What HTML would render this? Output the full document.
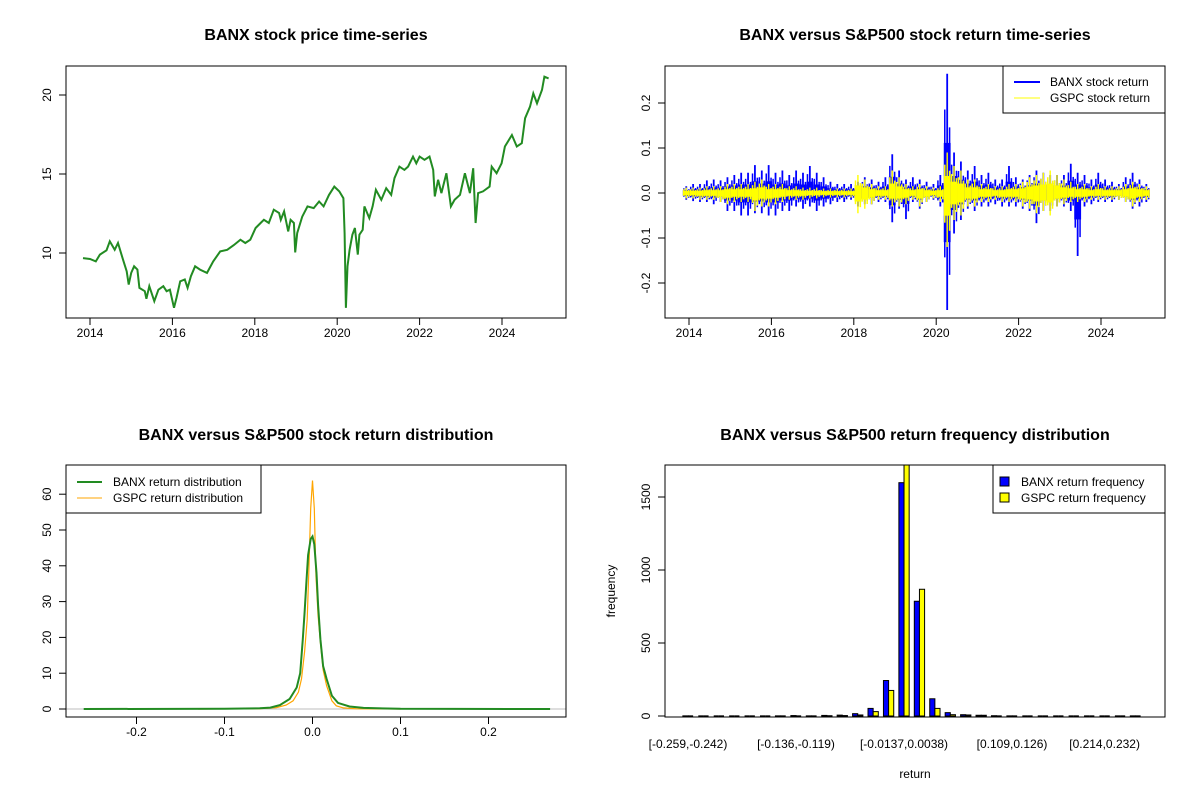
<!DOCTYPE html>
<html><head><meta charset="utf-8"><title>BANX vs S&amp;P500</title>
<style>
html,body{margin:0;padding:0;background:#fff;}
svg{display:block;font-family:"Liberation Sans",Arial,sans-serif;}
.t{font-weight:bold;font-size:16px;text-anchor:middle;}
</style></head>
<body>
<svg id="chart" width="1200" height="800" viewBox="0 0 1200 800" xmlns="http://www.w3.org/2000/svg">
<rect width="1200" height="800" fill="#fff"/>
<defs>
<clipPath id="c1"><rect x="66" y="66" width="500" height="252"/></clipPath>
<clipPath id="c2"><rect x="665" y="66" width="500" height="252"/></clipPath>
<clipPath id="c3"><rect x="66" y="465" width="500" height="252"/></clipPath>
<clipPath id="c4"><rect x="665" y="465" width="500" height="252"/></clipPath>
</defs>
<text class="t" x="316" y="40">BANX stock price time-series</text>
<text class="t" x="915" y="40">BANX versus S&amp;P500 stock return time-series</text>
<text class="t" x="316" y="440">BANX versus S&amp;P500 stock return distribution</text>
<text class="t" x="915" y="440">BANX versus S&amp;P500 return frequency distribution</text>
<g id="g1"></g>
<g id="g2"></g>
<g id="g3"></g>
<g id="g4"></g>
</svg>
<script>
// ---------- data: panel 1 (price) ----------
const priceYears = [2013.83,2014.0,2014.14,2014.24,2014.4,2014.48,2014.6,2014.68,2014.8,2014.89,2014.94,2015.0,2015.07,2015.15,2015.2,2015.33,2015.37,2015.44,2015.56,2015.66,2015.78,2015.86,2015.94,2016.04,2016.1,2016.19,2016.3,2016.37,2016.45,2016.55,2016.67,2016.84,2016.99,2017.16,2017.33,2017.49,2017.65,2017.77,2017.89,2018.02,2018.14,2018.22,2018.34,2018.46,2018.59,2018.63,2018.71,2018.81,2018.87,2018.95,2018.98,2019.03,2019.15,2019.28,2019.43,2019.56,2019.67,2019.8,2019.93,2020.05,2020.15,2020.18,2020.21,2020.25,2020.3,2020.37,2020.43,2020.5,2020.54,2020.62,2020.66,2020.78,2020.86,2020.94,2021.07,2021.19,2021.31,2021.39,2021.51,2021.63,2021.72,2021.84,2021.92,2022.0,2022.12,2022.24,2022.33,2022.37,2022.45,2022.53,2022.65,2022.76,2022.85,2022.98,2023.1,2023.22,2023.3,2023.36,2023.42,2023.54,2023.7,2023.75,2023.87,2023.99,2024.07,2024.24,2024.36,2024.48,2024.56,2024.68,2024.76,2024.85,2024.97,2025.03,2025.13];
const priceValues = [9.68,9.62,9.47,9.9,10.17,10.74,10.2,10.63,9.58,8.84,8.0,8.74,9.16,8.95,7.79,7.58,7.1,7.9,6.95,7.68,7.9,7.58,7.68,6.53,7.16,8.21,8.32,7.79,8.53,9.16,8.95,8.74,9.47,10.1,10.2,10.5,10.84,10.63,10.84,11.58,11.9,12.1,11.9,12.74,12.53,12.1,12.63,11.37,12.1,11.9,10.04,11.26,12.3,12.95,12.84,13.26,12.95,13.68,14.2,13.9,13.47,11.26,6.53,9.16,10.2,11.16,11.58,9.9,11.16,11.47,12.95,12.21,12.95,14.0,13.37,14.1,13.68,14.74,15.47,15.26,15.47,16.1,15.68,16.1,15.9,16.1,15.26,13.58,14.63,13.79,15.05,12.95,13.37,13.68,15.05,13.79,15.37,11.9,13.79,13.9,14.2,15.47,15.05,15.68,16.74,17.47,16.74,16.95,18.53,19.26,20.1,19.47,20.32,21.16,21.05];
const yearTicks = [2014,2016,2018,2020,2022,2024];
const priceTicks = [10,15,20];

// ---------- data: panel 2 (returns, per ~2-month period envelopes) ----------
const retStart = 2013.85;
const retStep = 1/6;
const banxHi = [.015,.02,.02,.028,.03,.028,.035,.04,.045,.045,.062,.05,.062,.045,.05,.04,.05,.045,.06,.045,.035,.025,.02,.02,.02,.025,.035,.03,.025,.035,.086,.05,.03,.035,.03,.025,.02,.04,.265,.09,.07,.05,.06,.04,.045,.03,.03,.06,.035,.03,.04,.05,.045,.04,.04,.04,.065,.045,.04,.03,.045,.03,.025,.02,.035,.045,.03,.02];
const banxLo = [-.015,-.018,-.02,-.02,-.025,-.02,-.04,-.04,-.05,-.05,-.045,-.045,-.05,-.05,-.04,-.04,-.03,-.035,-.03,-.04,-.03,-.025,-.02,-.02,-.015,-.03,-.025,-.025,-.02,-.02,-.065,-.035,-.058,-.02,-.035,-.02,-.015,-.03,-.26,-.09,-.06,-.035,-.04,-.03,-.03,-.025,-.03,-.03,-.03,-.035,-.04,-.067,-.04,-.04,-.03,-.03,-.04,-.14,-.03,-.025,-.02,-.02,-.02,-.015,-.02,-.035,-.03,-.02];
const gspcHi = [.012,.012,.012,.015,.015,.015,.02,.02,.02,.02,.025,.03,.02,.02,.02,.015,.015,.012,.012,.012,.01,.01,.01,.01,.01,.04,.03,.02,.015,.015,.05,.035,.02,.015,.02,.015,.012,.015,.09,.06,.05,.03,.03,.02,.02,.015,.015,.02,.02,.025,.035,.04,.045,.05,.04,.03,.025,.02,.02,.015,.02,.015,.015,.015,.02,.025,.02,.015];
const gspcLo = [-.012,-.012,-.015,-.015,-.015,-.02,-.025,-.02,-.02,-.02,-.04,-.03,-.03,-.025,-.02,-.015,-.015,-.015,-.012,-.012,-.01,-.01,-.01,-.01,-.01,-.045,-.035,-.025,-.015,-.015,-.03,-.03,-.025,-.015,-.03,-.02,-.012,-.02,-.12,-.06,-.05,-.03,-.03,-.02,-.02,-.015,-.02,-.02,-.02,-.03,-.035,-.045,-.04,-.05,-.03,-.025,-.02,-.02,-.02,-.015,-.015,-.015,-.015,-.015,-.02,-.03,-.02,-.015];
const returnTicks = [-0.2,-0.1,0.0,0.1,0.2];

// ---------- data: panel 3 (densities) ----------
const banxDensX = [-0.26,-0.1,-0.06,-0.048,-0.037,-0.026,-0.018,-0.014,-0.011,-0.009,-0.007,-0.005,-0.002,0.0,0.002,0.0045,0.0064,0.009,0.012,0.016,0.022,0.029,0.042,0.058,0.1,0.27];
const banxDensY = [0,0.05,0.2,0.4,1.1,2.8,6,10,19.5,27,35,43,47.5,48.2,46,38,29,19.5,12,8.4,3.7,1.7,0.7,0.3,0.05,0];
const gspcDensX = [-0.13,-0.06,-0.041,-0.03,-0.022,-0.016,-0.0125,-0.009,-0.006,-0.004,-0.002,0.0,0.002,0.004,0.0064,0.009,0.012,0.016,0.022,0.027,0.035,0.05,0.1];
const gspcDensY = [0,0.1,0.4,1.1,2.3,4.7,8.4,16,25,40,56,63.8,56,37,26,18.6,11,6.5,2.3,0.9,0.3,0.05,0];
const densXTicks = [-0.2,-0.1,0.0,0.1,0.2];
const densYTicks = [0,10,20,30,40,50,60];

// ---------- data: panel 4 (histogram) ----------
const binLabels = ["[-0.259,-0.242)","[-0.136,-0.119)","[-0.0137,0.0038)","[0.109,0.126)","[0.214,0.232)"];
const binLabelIdx = [0,7,14,21,27];
const banxFreq = [1,0,0,0,0,0,1,3,1,4,6,16,52,243,1598,786,118,23,9,5,2,1,0,0,0,0,0,0,0,1];
const gspcFreq = [0,0,0,0,0,0,0,0,0,2,3,7,30,175,1850,868,52,9,7,5,0,0,0,0,0,0,0,0,0,0];
const freqTicks = [0,500,1000,1500];

const NS = "http://www.w3.org/2000/svg";
function mk(parent, tag, attrs, name) {
  const el = document.createElementNS(NS, tag);
  for (const k in attrs) el.setAttribute(k, attrs[k]);
  
  
  parent.appendChild(el);
  return el;
}
function txt(parent, x, y, s, name, anchor, rot) {
  const el = mk(parent, 'text', {x: x, y: y, 'font-size': 12, 'text-anchor': anchor || 'middle'}, name);
  if (rot) el.setAttribute('transform', 'rotate(-90 ' + x + ' ' + y + ')');
  el.textContent = s;
  return el;
}
function box(g, x, y, w, h, name) {
  mk(g, 'rect', {x: x, y: y, width: w, height: h, fill: 'none', stroke: '#000', 'stroke-width': 1}, name);
}
function xAxis(g, ticks, sx, y0, fmt, name) {
  ticks.forEach(t => {
    const x = sx(t);
    mk(g, 'line', {x1: x, x2: x, y1: y0, y2: y0 + 7, stroke: '#000'}, name + '-tick');
    txt(g, x, y0 + 19, fmt(t), name + '-label');
  });
}
function yAxis(g, ticks, sy, x0, fmt, name) {
  ticks.forEach(t => {
    const y = sy(t);
    mk(g, 'line', {x1: x0 - 7, x2: x0, y1: y, y2: y, stroke: '#000'}, name + '-tick');
    txt(g, x0 - 15, y, fmt(t), name + '-label', 'middle', true);
  });
}

// ---------- panel 1 ----------
(function () {
  const g = document.getElementById('g1');
  const sx = v => 90 + (v - 2014) * 41.2;
  const sy = v => 253 - (v - 10) * 15.8;
  let d = '';
  priceYears.forEach((yr, i) => { d += (i ? 'L' : 'M') + sx(yr).toFixed(1) + ' ' + sy(priceValues[i]).toFixed(1); });
  mk(g, 'path', {d: d, fill: 'none', stroke: '#228B22', 'stroke-width': 2, 'clip-path': 'url(#c1)'}, 'price-line');
  box(g, 66, 66, 500, 252, 'price-plot-box');
  xAxis(g, yearTicks, sx, 318, String, 'price-x-axis');
  yAxis(g, priceTicks, sy, 66, String, 'price-y-axis');
})();

// ---------- panel 2 ----------
(function () {
  const g = document.getElementById('g2');
  const sx = v => 689 + (v - 2014) * 41.2;
  const sy = v => 193 - v * 450;
  const pw = retStep * 41.2;
  function series(hi, lo, color, name, w) {
    hi.forEach((h, i) => {
      const x = sx(retStart + i * retStep);
      const l = lo[i];
      mk(g, 'rect', {x: x, y: sy(h * 0.42), width: pw, height: sy(l * 0.42) - sy(h * 0.42), fill: color}, name + '-core');
      mk(g, 'line', {x1: x + pw * 0.5, x2: x + pw * 0.5, y1: sy(h), y2: sy(l), stroke: color, 'stroke-width': w}, name + '-spike');
      mk(g, 'line', {x1: x + pw * 0.15, x2: x + pw * 0.15, y1: sy(h * 0.7), y2: sy(l * 0.55), stroke: color, 'stroke-width': 1.5}, name + '-spike');
      mk(g, 'line', {x1: x + pw * 0.85, x2: x + pw * 0.85, y1: sy(h * 0.55), y2: sy(l * 0.7), stroke: color, 'stroke-width': 1.5}, name + '-spike');
    });
  }
  series(banxHi, banxLo, '#0000FF', 'banx-return', 1.8);
  series(gspcHi, gspcLo, '#FFFF00', 'gspc-return', 1.4);
  box(g, 665, 66, 500, 252, 'return-plot-box');
  xAxis(g, yearTicks, sx, 318, String, 'return-x-axis');
  yAxis(g, returnTicks, sy, 665, v => v.toFixed(1), 'return-y-axis');
  const lg = mk(g, 'g', {}, 'return-legend');
  mk(lg, 'rect', {x: 1003, y: 66, width: 162, height: 47, fill: '#fff', stroke: '#000'}, 'legend-box');
  mk(lg, 'line', {x1: 1014, x2: 1040, y1: 82, y2: 82, stroke: '#0000FF', 'stroke-width': 2}, 'legend-banx-line');
  mk(lg, 'line', {x1: 1014, x2: 1040, y1: 98, y2: 98, stroke: '#FFFF00', 'stroke-width': 1}, 'legend-gspc-line');
  txt(lg, 1050, 86, 'BANX stock return', 'legend-banx-label', 'start');
  txt(lg, 1050, 102, 'GSPC stock return', 'legend-gspc-label', 'start');
})();

// ---------- panel 3 ----------
(function () {
  const g = document.getElementById('g3');
  const sx = v => 312.5 + v * 880;
  const sy = v => 709 - v * 3.58;
  mk(g, 'line', {x1: 66, x2: 566, y1: sy(0), y2: sy(0), stroke: '#BEBEBE', 'stroke-width': 1}, 'zero-baseline');
  let d = '';
  gspcDensX.forEach((x, i) => { d += (i ? 'L' : 'M') + sx(x).toFixed(1) + ' ' + sy(gspcDensY[i]).toFixed(1); });
  mk(g, 'path', {d: d, fill: 'none', stroke: '#FFA500', 'stroke-width': 1.2, 'clip-path': 'url(#c3)'}, 'gspc-density-line');
  d = '';
  banxDensX.forEach((x, i) => { d += (i ? 'L' : 'M') + sx(x).toFixed(1) + ' ' + sy(banxDensY[i]).toFixed(1); });
  mk(g, 'path', {d: d, fill: 'none', stroke: '#228B22', 'stroke-width': 2, 'clip-path': 'url(#c3)'}, 'banx-density-line');
  box(g, 66, 465, 500, 252, 'density-plot-box');
  xAxis(g, densXTicks, sx, 717, v => v.toFixed(1), 'density-x-axis');
  yAxis(g, densYTicks, sy, 66, String, 'density-y-axis');
  const lg = mk(g, 'g', {}, 'density-legend');
  mk(lg, 'rect', {x: 66, y: 465, width: 195, height: 48, fill: '#fff', stroke: '#000'}, 'legend-box');
  mk(lg, 'line', {x1: 77, x2: 102, y1: 482, y2: 482, stroke: '#228B22', 'stroke-width': 2}, 'legend-banx-line');
  mk(lg, 'line', {x1: 77, x2: 102, y1: 498, y2: 498, stroke: '#FFA500', 'stroke-width': 1}, 'legend-gspc-line');
  txt(lg, 113, 486, 'BANX return distribution', 'legend-banx-label', 'start');
  txt(lg, 113, 502, 'GSPC return distribution', 'legend-gspc-label', 'start');
})();

// ---------- panel 4 ----------
(function () {
  const g = document.getElementById('g4');
  const gw = 15.43, bw = gw / 3;
  const cx = i => 688 + i * gw;
  const sy = v => 716 - v * 0.146;
  const bars = mk(g, 'g', {'clip-path': 'url(#c4)'}, 'histogram-bars');
  function drawBar(x, v, color, name) {
    if (v > 0) {
      mk(bars, 'rect', {x: x, y: sy(v), width: bw, height: sy(0) - sy(v), fill: color, stroke: '#000', 'stroke-width': 1}, name);
    } else {
      mk(bars, 'line', {x1: x, x2: x + bw, y1: sy(0), y2: sy(0), stroke: '#000', 'stroke-width': 1.3}, name);
    }
  }
  banxFreq.forEach((v, i) => drawBar(cx(i) - bw, v, '#0000FF', 'banx-freq-bar'));
  gspcFreq.forEach((v, i) => drawBar(cx(i), v, '#FFFF00', 'gspc-freq-bar'));
  box(g, 665, 465, 500, 252, 'histogram-plot-box');
  yAxis(g, freqTicks, sy, 665, String, 'freq-y-axis');
  binLabelIdx.forEach((idx, k) => {
    txt(g, cx(idx), 748, binLabels[k], 'bin-label');
  });
  txt(g, 915, 778, 'return', 'x-axis-title');
  txt(g, 615, 591, 'frequency', 'y-axis-title', 'middle', true);
  const lg = mk(g, 'g', {}, 'histogram-legend');
  mk(lg, 'rect', {x: 993, y: 465, width: 172, height: 48, fill: '#fff', stroke: '#000'}, 'legend-box');
  mk(lg, 'rect', {x: 1000, y: 477, width: 9, height: 9, fill: '#0000FF', stroke: '#000'}, 'legend-banx-swatch');
  mk(lg, 'rect', {x: 1000, y: 493, width: 9, height: 9, fill: '#FFFF00', stroke: '#000'}, 'legend-gspc-swatch');
  txt(lg, 1021, 486, 'BANX return frequency', 'legend-banx-label', 'start');
  txt(lg, 1021, 502, 'GSPC return frequency', 'legend-gspc-label', 'start');
})();
</script>
</body></html>
